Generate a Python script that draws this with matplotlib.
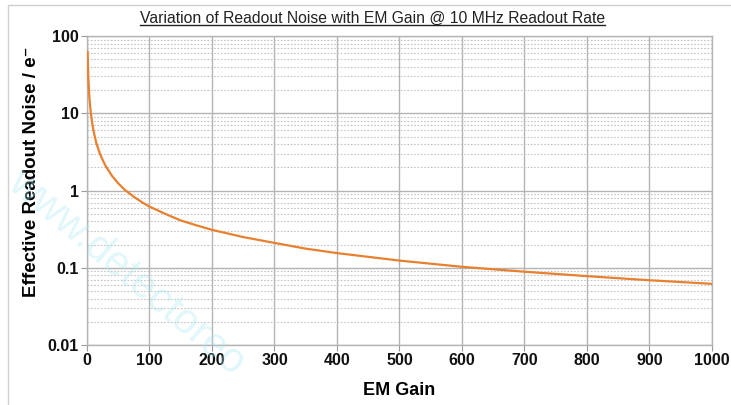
import matplotlib
matplotlib.use("Agg")
import matplotlib.pyplot as plt
from matplotlib.ticker import LogLocator, NullFormatter
from matplotlib.lines import Line2D
from matplotlib.patches import Rectangle

# Data
em_gain = [1, 2, 3, 4, 5, 6, 8, 10, 12, 15, 20, 25, 30, 40, 50, 60, 75, 90, 100,
           125, 150, 175, 200, 250, 300, 350, 400, 500, 600, 700, 800, 900, 1000]
readout_noise = [62, 31, 21, 15.5, 12.4, 10.3, 7.8, 6.2, 5.2, 4.1, 3.1, 2.5, 2.07,
                 1.55, 1.24, 1.03, 0.83, 0.69, 0.62, 0.50, 0.41, 0.355, 0.31, 0.25,
                 0.21, 0.177, 0.155, 0.124, 0.103, 0.089, 0.078, 0.069, 0.062]
x_ticks = [0, 100, 200, 300, 400, 500, 600, 700, 800, 900, 1000]
y_ticks = [0.01, 0.1, 1, 10, 100]
y_labels = ["0.01", "0.1", "1", "10", "100"]

title = "Variation of Readout Noise with EM Gain @ 10 MHz Readout Rate"

plt.rcParams['font.family'] = ['Liberation Sans', 'DejaVu Sans']

fig = plt.figure(figsize=(7.31, 4.05), dpi=100)
ax = fig.add_axes([0.119, 0.148, 0.855, 0.763])

ax.plot(em_gain, readout_noise, color="#E8802E", lw=1.6, zorder=3)
ax.set_yscale("log")
ax.set_xlim(0, 1000)
ax.set_ylim(0.01, 100)
ax.set_xticks(x_ticks)
ax.set_xticklabels([str(t) for t in x_ticks], fontweight="bold", fontsize=11.5, color="#111111")
ax.set_yticks(y_ticks)
ax.set_yticklabels(y_labels, fontweight="bold", fontsize=11.5, color="#111111")
ax.yaxis.set_minor_locator(LogLocator(base=10, subs=range(2, 10)))
ax.yaxis.set_minor_formatter(NullFormatter())

ax.grid(True, which="major", color="#b4b4b4", lw=1.0, zorder=1)
ax.grid(True, which="minor", axis="y", color="#c4c4c4", lw=0.8, ls=(0, (1.5, 1.5)), zorder=1)
ax.tick_params(axis="both", which="major", length=4, color="#999999", pad=2)
ax.tick_params(axis="y", which="minor", length=0)
for s in ax.spines.values():
    s.set_color("#b4b4b4")
    s.set_linewidth(1.0)

ax.set_xlabel("EM Gain", fontweight="bold", fontsize=13, labelpad=10)
ax.set_ylabel("Effective Readout Noise / e\u207b", fontweight="bold", fontsize=13.5)
ax.yaxis.set_label_coords(-0.075, 0.56)

t = fig.text(0.509, 0.955, title, ha="center", va="center", fontsize=11.3, color="#222222")
fig.canvas.draw()
bb = t.get_window_extent().transformed(fig.transFigure.inverted())
fig.add_artist(Line2D([bb.x0, bb.x1], [bb.y0 + 0.002, bb.y0 + 0.002], transform=fig.transFigure,
                      color="#222222", lw=1.0))

# light frame around figure
fig.add_artist(Rectangle((0.011, -0.01), 1.0, 0.998, transform=fig.transFigure,
                         fill=False, edgecolor="#d0d0d0", lw=1.0))

# faint watermark
fig.text(0.035, 0.60, "www.detectoreo", rotation=-40, rotation_mode="anchor",
         fontsize=30, color="#a8e8f0", alpha=0.35, ha="left", va="top")

fig.savefig("out.png", dpi=100)
